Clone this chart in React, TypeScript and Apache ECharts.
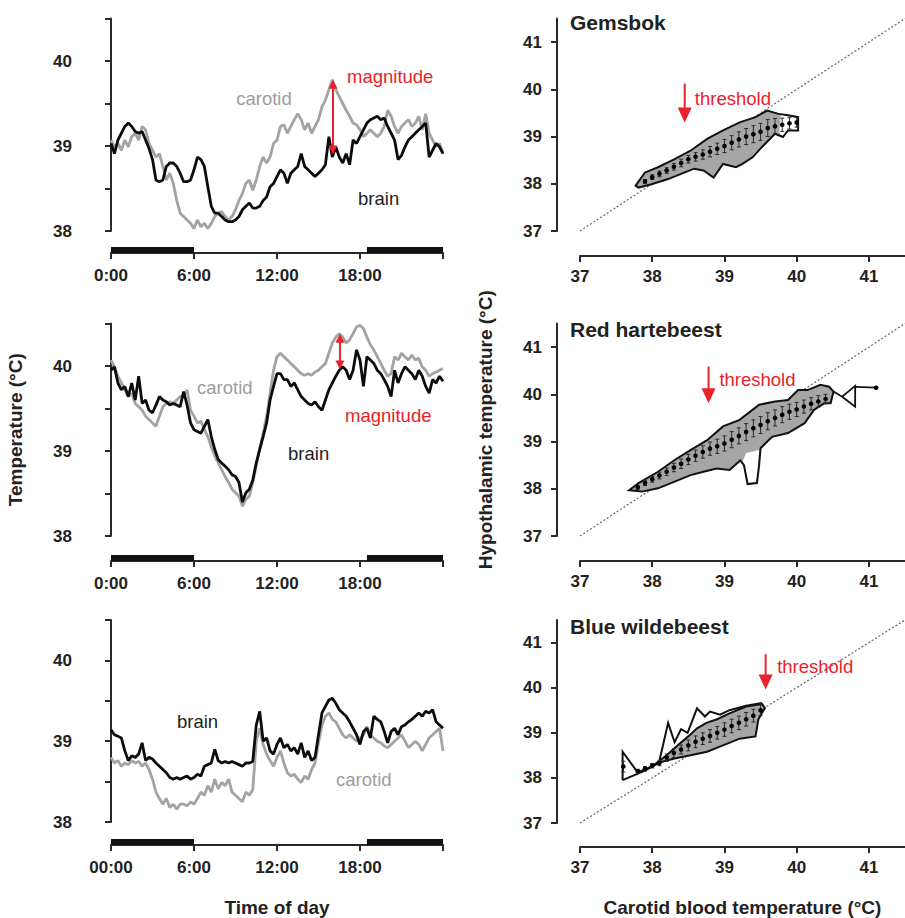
import React, { useEffect, useRef } from 'react';
import * as echarts from 'echarts';

// ---------- data ----------
const hours = Array.from({ length: 97 }, (_, i) => i / 4);
const timeTicks = [0, 6, 12, 18, 24];
const timeLabels = ['0:00', '6:00', '12:00', '18:00', ''];
const timeLabelsBottom = ['00:00', '6:00', '12:00', '18:00', ''];
const tempTicksLeft = [38, 39, 40];
const tempTicksRight = [37, 38, 39, 40, 41];
const nightPeriods = [[0, 6], [18.5, 24]];

const gemsbokBrain = [
  39.03, 38.91, 39.07, 39.15, 39.23, 39.27, 39.23, 39.17, 39.15, 39.17, 39.07, 38.97,
  38.84, 38.6, 38.58, 38.6, 38.76, 38.8, 38.8, 38.76, 38.68, 38.58, 38.58, 38.6,
  38.72, 38.87, 38.84, 38.76, 38.52, 38.29, 38.21, 38.21, 38.17, 38.13, 38.11, 38.11,
  38.13, 38.17, 38.25, 38.29, 38.33, 38.27, 38.27, 38.29, 38.36, 38.4, 38.52, 38.56,
  38.64, 38.72, 38.68, 38.56, 38.68, 38.72, 38.76, 38.91, 38.76, 38.72, 38.68, 38.64,
  38.68, 38.72, 38.78, 39.11, 38.87, 38.99, 38.87, 38.8, 38.91, 38.78, 39.07, 39.03,
  39.11, 39.19, 39.27, 39.31, 39.33, 39.35, 39.31, 39.33, 39.23, 39.15, 39.07, 38.84,
  38.89, 38.99, 39.07, 39.11, 39.15, 39.19, 39.23, 39.27, 38.87, 38.95, 39.03, 38.99,
  38.91,
];
const gemsbokCarotid = [
  39.07, 38.99, 39.03, 38.95, 39.07, 38.99, 39.11, 39.15, 39.07, 39.23, 39.19, 39.03,
  38.95, 38.87, 38.91, 38.76, 38.6, 38.68, 38.56, 38.36, 38.21, 38.17, 38.13, 38.09,
  38.03, 38.13, 38.05, 38.09, 38.03, 38.09, 38.17, 38.21, 38.23, 38.17, 38.13, 38.17,
  38.25, 38.36, 38.44, 38.56, 38.6, 38.48, 38.6, 38.76, 38.87, 38.8, 38.87, 39.03,
  39.07, 39.23, 39.25, 39.15, 39.23, 39.31, 39.38, 39.31, 39.19, 39.27, 39.15, 39.23,
  39.31, 39.46, 39.54, 39.66, 39.78, 39.66, 39.58, 39.5, 39.42, 39.35, 39.27, 39.25,
  39.19, 39.11, 39.15, 39.19, 39.15, 39.11, 39.15, 39.23, 39.42, 39.35, 39.23, 39.15,
  39.23, 39.27, 39.31, 39.23, 39.27, 39.35, 39.19, 39.38, 39.15, 39.07, 38.99, 39.03,
  38.91,
];
const hartebeestBrain = [
  39.95, 39.99, 39.8, 39.72, 39.76, 39.64, 39.8, 39.6, 39.88, 39.56, 39.6, 39.48,
  39.45, 39.54, 39.64, 39.6, 39.58, 39.54, 39.56, 39.54, 39.52, 39.7, 39.54, 39.33,
  39.25, 39.23, 39.21, 39.29, 39.37, 39.17, 39.02, 38.9, 38.86, 38.82, 38.78, 38.72,
  38.7, 38.63, 38.4, 38.51, 38.55, 38.66, 38.86, 39.02, 39.17, 39.33, 39.6, 39.76,
  39.91, 39.91, 39.84, 39.84, 39.76, 39.8, 39.72, 39.64, 39.6, 39.56, 39.54, 39.58,
  39.52, 39.48, 39.6, 39.72, 39.8, 39.88, 39.95, 39.99, 39.95, 39.84, 39.95, 40.19,
  40.07, 39.76, 40.11, 40.07, 40.03, 39.95, 39.91, 39.84, 39.76, 39.64, 39.95, 39.8,
  39.91, 39.99, 39.95, 39.91, 39.84, 39.95, 39.88, 39.76, 39.68, 39.84, 39.8, 39.88,
  39.82,
];
const hartebeestCarotid = [
  40.07, 39.99, 39.88, 39.8, 39.72, 39.64, 39.68, 39.56, 39.52, 39.48, 39.41, 39.37,
  39.33, 39.29, 39.41, 39.52, 39.56, 39.58, 39.56, 39.6, 39.64, 39.64, 39.72, 39.48,
  39.41, 39.33, 39.35, 39.25, 39.17, 39.05, 38.94, 38.86, 38.78, 38.7, 38.63, 38.55,
  38.51, 38.47, 38.35, 38.43, 38.47, 38.63, 38.82, 39.02, 39.21, 39.41, 39.68, 39.95,
  40.11, 40.15, 40.11, 40.07, 40.03, 39.99, 39.95, 39.91, 39.89, 39.91, 39.89, 39.93,
  39.95, 39.99, 40.03, 40.15, 40.27, 40.34, 40.38, 40.34, 40.27, 40.31, 40.38, 40.46,
  40.48, 40.44, 40.34, 40.25, 40.19, 40.11, 40.03, 39.95, 39.88, 39.91, 40.11, 40.07,
  40.15, 40.11, 40.07, 40.13, 40.07, 40.09, 39.99, 39.95, 39.88, 39.91, 39.93, 39.95,
  39.97,
];
const wildebeestBrain = [
  39.14, 39.08, 39.06, 39.04, 38.88, 38.76, 38.82, 38.8, 38.84, 38.98, 38.76, 38.8,
  38.78, 38.73, 38.69, 38.65, 38.61, 38.55, 38.53, 38.55, 38.53, 38.55, 38.57, 38.53,
  38.55, 38.59, 38.57, 38.69, 38.71, 38.73, 38.9, 38.76, 38.73, 38.75, 38.73, 38.75,
  38.73, 38.71, 38.69, 38.73, 38.73, 38.75, 39.2, 39.37, 39.0, 39.04, 38.88, 38.84,
  38.96, 39.04, 38.92, 38.96, 38.88, 38.92, 38.84, 38.98, 38.8, 38.88, 38.76, 38.8,
  39.08, 39.35, 39.43, 39.51, 39.53, 39.47, 39.39, 39.35, 39.31, 39.24, 39.16, 39.08,
  38.96, 39.12, 39.16, 39.04, 39.31, 39.27, 39.24, 39.12, 38.98, 39.12, 39.16, 39.08,
  39.18, 39.2, 39.24, 39.27, 39.31, 39.35, 39.31, 39.37, 39.35, 39.39, 39.24, 39.2,
  39.16,
];
const wildebeestCarotid = [
  38.8, 38.73, 38.76, 38.69, 38.73, 38.71, 38.76, 38.73, 38.75, 38.69, 38.73, 38.65,
  38.53, 38.37, 38.29, 38.22, 38.29, 38.18, 38.22, 38.16, 38.22, 38.22, 38.2, 38.25,
  38.22, 38.29, 38.37, 38.33, 38.45, 38.37, 38.53, 38.41, 38.49, 38.45, 38.53, 38.37,
  38.33, 38.29, 38.25, 38.37, 38.33, 38.4, 39.0, 39.16, 38.96, 38.84, 38.76, 38.69,
  38.8, 38.88, 38.73, 38.61, 38.57, 38.59, 38.53, 38.49, 38.57, 38.53, 38.65, 38.73,
  38.98, 39.2, 39.31, 39.35, 39.27, 39.24, 39.16, 39.08, 39.04, 39.08, 39.04, 39.0,
  39.04, 39.08, 39.18, 39.08, 39.04, 39.0, 38.98, 38.94, 38.92, 38.96, 39.0, 39.04,
  39.08, 39.0, 38.92, 38.96, 39.0, 38.96, 38.88, 38.96, 39.04, 39.08, 39.12, 39.16,
  38.88,
];

// Right panels: contour outlines [carotid, hypothalamic]
const gemsbokOutline = [
  [37.77, 37.96], [37.9, 38.24], [38.08, 38.35], [38.31, 38.52], [38.53, 38.7], [38.76, 38.95],
  [38.98, 39.13], [39.21, 39.3], [39.43, 39.41], [39.59, 39.55], [39.75, 39.48], [39.88, 39.45],
  [40.02, 39.41], [40.02, 39.13], [39.88, 39.13], [39.81, 38.99], [39.7, 39.06], [39.52, 38.78],
  [39.39, 38.56], [39.25, 38.42], [39.16, 38.35], [38.98, 38.42], [38.85, 38.13], [38.71, 38.28],
  [38.58, 38.32], [38.4, 38.21], [38.22, 38.1], [37.99, 37.99], [37.81, 37.92],
];
const gemsbokWhite = [
  [39.78, 39.46], [40.02, 39.41], [40.02, 39.13], [39.88, 39.13], [39.81, 38.99], [39.76, 39.08],
];
const gemsbokX = [37.9, 38.0, 38.1, 38.2, 38.3, 38.4, 38.5, 38.6, 38.7, 38.8, 38.9, 39.0, 39.1, 39.2, 39.3, 39.4, 39.5, 39.6, 39.7, 39.8, 39.9, 40.0];
const gemsbokMean = [38.05, 38.14, 38.21, 38.28, 38.36, 38.44, 38.52, 38.57, 38.62, 38.68, 38.74, 38.8, 38.87, 38.94, 39.0, 39.05, 39.1, 39.18, 39.22, 39.25, 39.28, 39.3];
const gemsbokSD = [0.04, 0.05, 0.06, 0.06, 0.07, 0.08, 0.08, 0.09, 0.1, 0.11, 0.12, 0.14, 0.15, 0.16, 0.17, 0.18, 0.18, 0.18, 0.16, 0.14, 0.12, 0.1];

const hartebeestOutline = [
  [37.68, 37.97], [37.81, 38.12], [38.08, 38.36], [38.31, 38.61], [38.53, 38.82], [38.76, 39.03],
  [38.98, 39.32], [39.21, 39.46], [39.48, 39.78], [39.7, 39.85], [39.88, 39.88], [40.02, 40.09],
  [40.15, 40.09], [40.33, 40.2], [40.45, 40.16], [40.51, 40.06], [40.47, 39.81], [40.38, 39.81],
  [40.24, 39.67], [40.11, 39.39], [39.88, 39.18], [39.66, 39.1], [39.5, 38.86], [39.48, 38.5],
  [39.45, 38.12], [39.32, 38.1], [39.27, 38.5], [39.22, 38.6], [39.07, 38.4], [38.89, 38.43],
  [38.71, 38.36], [38.53, 38.29], [38.31, 38.15], [38.08, 38.01], [37.86, 37.94],
];
const hartebeestWhite = [
  [39.25, 38.58], [39.3, 38.76], [39.48, 38.82], [39.47, 38.5], [39.44, 38.14], [39.33, 38.12], [39.28, 38.5],
];
const hartebeestTail = [
  [40.51, 40.06], [40.63, 39.95], [40.81, 40.18], [40.81, 39.74], [40.63, 39.95],
];
const hartebeestTail2 = [[40.81, 40.16], [41.1, 40.14]];
const hartebeestX = [37.8, 37.9, 38.0, 38.1, 38.2, 38.3, 38.4, 38.5, 38.6, 38.7, 38.8, 38.9, 39.0, 39.1, 39.2, 39.3, 39.4, 39.5, 39.6, 39.7, 39.8, 39.9, 40.0, 40.1, 40.2, 40.3, 40.4, 41.1];
const hartebeestMean = [38.03, 38.12, 38.2, 38.28, 38.36, 38.45, 38.53, 38.62, 38.7, 38.78, 38.85, 38.9, 38.96, 39.04, 39.12, 39.2, 39.28, 39.35, 39.43, 39.5, 39.57, 39.63, 39.68, 39.74, 39.8, 39.85, 39.9, 40.14];
const hartebeestSD = [0.04, 0.05, 0.06, 0.07, 0.08, 0.09, 0.1, 0.11, 0.12, 0.13, 0.14, 0.15, 0.16, 0.17, 0.17, 0.18, 0.18, 0.18, 0.18, 0.17, 0.17, 0.16, 0.15, 0.14, 0.13, 0.12, 0.1, 0];

const wildebeestOutline = [
  [38.1, 38.38], [38.2, 38.5], [38.35, 38.72], [38.5, 38.92], [38.62, 39.1], [38.75, 39.22],
  [38.9, 39.3], [39.07, 39.43], [39.3, 39.58], [39.52, 39.64], [39.56, 39.55], [39.47, 39.3],
  [39.43, 38.92], [39.21, 38.87], [38.98, 38.72], [38.76, 38.58], [38.53, 38.5], [38.31, 38.43],
  [38.1, 38.34],
];
const wildebeestJagged = [
  [37.59, 37.95], [37.59, 38.58], [37.8, 38.12], [38.0, 38.26], [38.1, 38.38], [38.22, 39.22],
  [38.31, 38.79], [38.4, 39.08], [38.49, 39.0], [38.62, 39.54], [38.73, 39.36], [38.8, 39.47],
  [38.94, 39.4], [39.07, 39.5], [39.3, 39.6], [39.52, 39.66],
];
const wildebeestLower = [[37.59, 37.95], [37.9, 38.16], [38.1, 38.34]];
const wildebeestX = [37.6, 37.8, 37.9, 38.0, 38.1, 38.2, 38.3, 38.4, 38.5, 38.6, 38.7, 38.8, 38.9, 39.0, 39.1, 39.2, 39.3, 39.4, 39.5];
const wildebeestMean = [38.25, 38.15, 38.2, 38.27, 38.33, 38.45, 38.55, 38.63, 38.72, 38.8, 38.87, 38.93, 39.0, 39.07, 39.15, 39.22, 39.3, 39.38, 39.5];
const wildebeestSD = [0.12, 0.04, 0.05, 0.05, 0.06, 0.08, 0.1, 0.1, 0.12, 0.13, 0.13, 0.14, 0.14, 0.15, 0.15, 0.15, 0.15, 0.14, 0.12];

const identityLine = [[37, 37], [41.5, 41.5]];

// arrows: [x, start, tip, bothHeads]
const magnitudeArrows = [[16.05, 38.9, 39.78, 1], [16.55, 39.96, 40.38, 1], null];
const thresholdArrows = [[38.45, 40.12, 39.3, 0], [38.78, 40.59, 39.81, 0], [39.57, 40.74, 39.96, 0]];

const leftNotes = [
  [
    { x: 11.06, y: 39.56, text: 'carotid', color: '#9c9c9c', align: 'center' },
    { x: 17.06, y: 39.82, text: 'magnitude', color: '#e8232b', align: 'left' },
    { x: 17.86, y: 38.38, text: 'brain', color: '#222', align: 'left' },
  ],
  [
    { x: 6.22, y: 39.75, text: 'carotid', color: '#9c9c9c', align: 'left' },
    { x: 16.92, y: 39.42, text: 'magnitude', color: '#e8232b', align: 'left' },
    { x: 12.8, y: 38.97, text: 'brain', color: '#222', align: 'left' },
  ],
  [
    { x: 4.77, y: 39.24, text: 'brain', color: '#222', align: 'left' },
    { x: 16.27, y: 38.53, text: 'carotid', color: '#9c9c9c', align: 'left' },
  ],
];
const rightNotes = [
  [{ x: 38.59, y: 39.81, text: 'threshold', color: '#e8232b', align: 'left' }],
  [{ x: 38.93, y: 40.31, text: 'threshold', color: '#e8232b', align: 'left' }],
  [{ x: 39.73, y: 40.47, text: 'threshold', color: '#e8232b', align: 'left' }],
];
const speciesNames = ['Gemsbok', 'Red hartebeest', 'Blue wildebeest'];

// ---------- styling ----------
const FONT = '"Liberation Sans", Arial, Helvetica, sans-serif';
const INK = '#222';
const AXIS = '#2a2a2a';
const RED = '#e8232b';
const BRAIN = '#0c0c0c';
const CAROTID = '#a3a3a3';
const FILL = '#a6a6a6';

const tops = [18.5, 323.5, 620];
const HGT = 212.5;
const leftXOffsets = [22, 25, 23];
const rightXOffsets = [25, 25, 24];

export default function App() {
  const ref = useRef<HTMLDivElement>(null);

  useEffect(() => {
    if (!ref.current) return;
    const chart = echarts.init(ref.current, undefined, { renderer: 'svg' });

    const grids: any[] = [];
    const xAxes: any[] = [];
    const yAxes: any[] = [];
    const series: any[] = [];

    const labelStyle = { color: INK, fontFamily: FONT, fontWeight: 'bold', fontSize: 17 };
    const axisLine = { show: true, lineStyle: { color: AXIS, width: 2 } };
    const axisTick = (len: number) => ({ show: true, length: len, lineStyle: { color: AXIS, width: 2 } });

    const brainSets = [gemsbokBrain, hartebeestBrain, wildebeestBrain];
    const carSets = [gemsbokCarotid, hartebeestCarotid, wildebeestCarotid];

    const polygon = (gi: number, pts: number[][], style: any, closed: boolean, z: number) => ({
      type: 'custom', xAxisIndex: gi, yAxisIndex: gi, data: pts, clip: false, silent: true, z,
      renderItem: (params: any, api: any) =>
        params.dataIndex === 0
          ? { type: closed ? 'polygon' : 'polyline', shape: { points: pts.map((p) => api.coord(p)) }, style }
          : null,
    });

    const textSeries = (gi: number, notes: any[]) => ({
      type: 'custom', xAxisIndex: gi, yAxisIndex: gi, clip: false, silent: true, z: 10,
      data: notes.map((n) => [n.x, n.y]),
      renderItem: (params: any, api: any) => {
        const n = notes[params.dataIndex];
        const p = api.coord([n.x, n.y]);
        return {
          type: 'text', x: p[0], y: p[1],
          style: { text: n.text, fill: n.color, fontSize: 18.5, fontFamily: FONT, align: n.align, verticalAlign: 'middle' },
        };
      },
    });

    const arrowSeries = (gi: number, arrow: number[], head: number, half: number) => ({
      type: 'custom', xAxisIndex: gi, yAxisIndex: gi, clip: false, silent: true, z: 11,
      data: [arrow],
      renderItem: (params: any, api: any) => {
        const x = api.value(0), y0 = api.value(1), y1 = api.value(2), both = api.value(3);
        const p0 = api.coord([x, y0]);
        const p1 = api.coord([x, y1]);
        const d = p1[1] > p0[1] ? 1 : -1;
        const children: any[] = [
          {
            type: 'line',
            shape: { x1: p0[0], y1: both ? p0[1] + d * head * 0.8 : p0[1], x2: p1[0], y2: p1[1] - d * head * 0.8 },
            style: { stroke: RED, lineWidth: 2 },
          },
          {
            type: 'polygon',
            shape: { points: [[p1[0], p1[1]], [p1[0] - half, p1[1] - d * head], [p1[0] + half, p1[1] - d * head]] },
            style: { fill: RED },
          },
        ];
        if (both) {
          children.push({
            type: 'polygon',
            shape: { points: [[p0[0], p0[1]], [p0[0] - half, p0[1] + d * head], [p0[0] + half, p0[1] + d * head]] },
            style: { fill: RED },
          });
        }
        return { type: 'group', children };
      },
    });

    const errorSeries = (gi: number, xs: number[], ms: number[], sds: number[]) => ({
      type: 'custom', xAxisIndex: gi, yAxisIndex: gi, clip: false, silent: true, z: 8,
      data: xs.map((x, i) => [x, ms[i], sds[i]]),
      renderItem: (params: any, api: any) => {
        const x = api.value(0), m = api.value(1), s = api.value(2);
        const t = api.coord([x, m + s]);
        const b = api.coord([x, m - s]);
        const c = api.coord([x, m]);
        const st = { stroke: '#2a2a2a', lineWidth: 1 };
        return {
          type: 'group',
          children: [
            { type: 'line', shape: { x1: t[0], y1: t[1], x2: b[0], y2: b[1] }, style: st },
            { type: 'line', shape: { x1: t[0] - 2, y1: t[1], x2: t[0] + 2, y2: t[1] }, style: st },
            { type: 'line', shape: { x1: b[0] - 2, y1: b[1], x2: b[0] + 2, y2: b[1] }, style: st },
            { type: 'circle', shape: { cx: c[0], cy: c[1], r: 2.3 }, style: { fill: '#000' } },
          ],
        };
      },
    });

    // left panels (grid 0..2)
    for (let i = 0; i < 3; i++) {
      grids.push({ left: 111, top: tops[i], width: 332, height: HGT });
      const labels = i === 2 ? timeLabelsBottom : timeLabels;
      xAxes.push({
        gridIndex: i, type: 'value', min: 0, max: 24, interval: 6, offset: leftXOffsets[i],
        axisLine, axisTick: axisTick(6), splitLine: { show: false },
        axisLabel: {
          ...labelStyle, margin: 14,
          formatter: (v: number) => labels[timeTicks.indexOf(v)] ?? '',
        },
        ...(i === 2
          ? { name: 'Time of day', nameLocation: 'middle', nameGap: 53,
              nameTextStyle: { color: INK, fontFamily: FONT, fontWeight: 'bold', fontSize: 19 } }
          : {}),
      });
      yAxes.push({
        gridIndex: i, type: 'value', min: 38, max: 40.5, interval: 0.5, offset: 23,
        axisLine, axisTick: axisTick(6), splitLine: { show: false },
        axisLabel: {
          ...labelStyle, margin: 16,
          formatter: (v: number) => (tempTicksLeft.includes(v) ? String(v) : ''),
        },
        ...(i === 1
          ? { name: 'Temperature (°C)', nameLocation: 'middle', nameGap: 63, nameRotate: 90,
              nameTextStyle: { color: INK, fontFamily: FONT, fontWeight: 'bold', fontSize: 19 } }
          : {}),
      });

      series.push({
        type: 'line', xAxisIndex: i, yAxisIndex: i, showSymbol: false, silent: true, z: 3,
        data: hours.map((h, k) => [h, carSets[i][k]]),
        lineStyle: { color: CAROTID, width: 2.8 },
      });
      series.push({
        type: 'line', xAxisIndex: i, yAxisIndex: i, showSymbol: false, silent: true, z: 4,
        data: hours.map((h, k) => [h, brainSets[i][k]]),
        lineStyle: { color: BRAIN, width: 2.8 },
      });
      const off = leftXOffsets[i];
      series.push({
        type: 'custom', xAxisIndex: i, yAxisIndex: i, clip: false, silent: true, z: 6,
        data: nightPeriods,
        renderItem: (params: any, api: any) => {
          const a = api.coord([api.value(0), 38]);
          const b = api.coord([api.value(1), 38]);
          const yLine = a[1] + off;
          return { type: 'rect', shape: { x: a[0], y: yLine - 6, width: b[0] - a[0], height: 6 }, style: { fill: '#111' } };
        },
      });
      series.push(textSeries(i, leftNotes[i]));
      const mag = magnitudeArrows[i];
      if (mag) series.push(arrowSeries(i, mag, 9, 4.5));
    }

    // right panels (grid 3..5)
    const outlines = [gemsbokOutline, hartebeestOutline, wildebeestOutline];
    const whites = [gemsbokWhite, hartebeestWhite, null];
    const meansX = [gemsbokX, hartebeestX, wildebeestX];
    const means = [gemsbokMean, hartebeestMean, wildebeestMean];
    const sds = [gemsbokSD, hartebeestSD, wildebeestSD];
    for (let i = 0; i < 3; i++) {
      const gi = i + 3;
      grids.push({ left: 580, top: tops[i], width: 333, height: HGT });
      xAxes.push({
        gridIndex: gi, type: 'value', min: 37, max: 41.5, interval: 1, offset: rightXOffsets[i],
        axisLine, axisTick: { ...axisTick(6), customValues: tempTicksRight }, splitLine: { show: false },
        axisLabel: {
          ...labelStyle, margin: 12, customValues: tempTicksRight,
          formatter: (v: number) => (tempTicksRight.includes(v) ? String(v) : ''),
        },
        ...(i === 2
          ? { name: 'Carotid blood temperature (°C)', nameLocation: 'middle', nameGap: 51,
              nameTextStyle: { color: INK, fontFamily: FONT, fontWeight: 'bold', fontSize: 19 } }
          : {}),
      });
      yAxes.push({
        gridIndex: gi, type: 'value', min: 37, max: 41.5, interval: 1, offset: 23,
        axisLine, axisTick: { ...axisTick(6), customValues: tempTicksRight }, splitLine: { show: false },
        axisLabel: {
          ...labelStyle, margin: 15, customValues: tempTicksRight,
          formatter: (v: number) => (tempTicksRight.includes(v) ? String(v) : ''),
        },
        ...(i === 1
          ? { name: 'Hypothalamic temperature (°C)', nameLocation: 'middle', nameGap: 62, nameRotate: 90,
              nameTextStyle: { color: INK, fontFamily: FONT, fontWeight: 'bold', fontSize: 19 } }
          : {}),
      });

      series.push({
        type: 'line', xAxisIndex: gi, yAxisIndex: gi, showSymbol: false, silent: true, z: 2,
        data: identityLine,
        lineStyle: { color: '#666', width: 1.2, type: [2, 2] },
      });
      series.push(polygon(gi, outlines[i], { fill: FILL, stroke: 'none' }, true, 3));
      const w = whites[i];
      if (w) series.push(polygon(gi, w, { fill: '#fff', stroke: 'none' }, true, 4));
      series.push(polygon(gi, outlines[i], { fill: 'none', stroke: '#111', lineWidth: 2 }, true, 5));
      if (i === 1) {
        series.push(polygon(gi, hartebeestTail, { fill: 'none', stroke: '#111', lineWidth: 1.8 }, false, 5));
        series.push(polygon(gi, hartebeestTail2, { fill: 'none', stroke: '#111', lineWidth: 1.8 }, false, 5));
      }
      if (i === 2) {
        series.push(polygon(gi, wildebeestJagged, { fill: 'none', stroke: '#111', lineWidth: 2 }, false, 5));
        series.push(polygon(gi, wildebeestLower, { fill: 'none', stroke: '#111', lineWidth: 2 }, false, 5));
      }
      series.push(errorSeries(gi, meansX[i], means[i], sds[i]));
      series.push(arrowSeries(gi, thresholdArrows[i], 15, 7));
      series.push(textSeries(gi, rightNotes[i]));
    }

    const titles = speciesNames.map((name, i) => ({
      text: name, left: 570, top: tops[i] - 3 + [-4, -2, -1][i], padding: 0,
      textStyle: { color: INK, fontFamily: FONT, fontWeight: 'bold', fontSize: 21 },
    }));

    chart.setOption({
      animation: false,
      backgroundColor: '#fff',
      title: titles,
      grid: grids,
      xAxis: xAxes,
      yAxis: yAxes,
      series,
    });

    return () => chart.dispose();
  }, []);

  return (
    <div
      ref={ref}
      style={{ position: 'absolute', left: 0, top: 0, width: 905, height: 918, background: '#fff' }}
    />
  );
}
